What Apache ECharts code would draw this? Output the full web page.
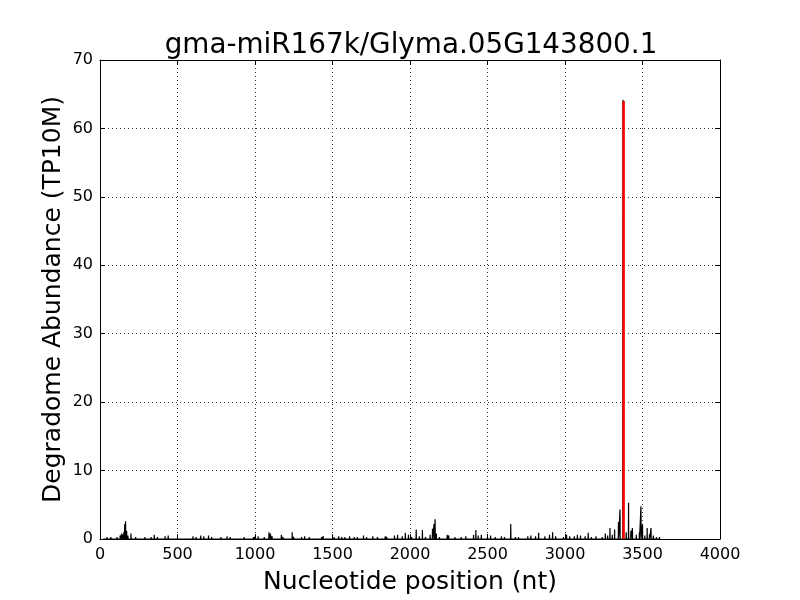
<!DOCTYPE html>
<html>
<head>
<meta charset="utf-8">
<script src="https://cdn.jsdelivr.net/npm/echarts@6/dist/echarts.min.js"></script>
<style>html,body{margin:0;padding:0;background:#fff}#c{width:800px;height:600px}</style>
</head>
<body>
<div id="c"></div>
<script>
const titleText = "gma-miR167k/Glyma.05G143800.1";
const xLabel = "Nucleotide position (nt)";
const yLabel = "Degradome Abundance (TP10M)";
const spikePositions = [20,45,70,90,110,130,140,148,155,160,165,172,180,200,230,290,330,350,370,420,440,600,620,650,670,700,720,780,820,840,930,990,1000,1020,1060,1090,1100,1110,1170,1180,1240,1250,1300,1320,1350,1430,1440,1510,1540,1560,1580,1610,1640,1660,1700,1720,1760,1790,1840,1850,1900,1920,1950,1970,1990,2010,2040,2060,2080,2100,2130,2145,2155,2162,2170,2190,2240,2250,2290,2330,2360,2410,2425,2440,2460,2500,2520,2550,2590,2610,2650,2680,2700,2760,2780,2810,2830,2870,2900,2920,2940,2990,3010,3030,3060,3080,3100,3130,3150,3170,3200,3240,3260,3275,3290,3305,3320,3345,3355,3374,3395,3410,3425,3435,3460,3480,3490,3500,3515,3530,3545,3555,3570,3590,3610];
const spikeValues = [0.2,0.3,0.3,0.2,0.3,0.5,0.8,0.6,1.0,2.2,2.6,1.2,0.5,0.8,0.3,0.3,0.3,0.6,0.3,0.4,0.5,0.4,0.3,0.5,0.4,0.5,0.3,0.3,0.4,0.3,0.3,0.3,0.3,0.4,0.3,1.0,0.8,0.4,0.6,0.3,1.0,0.3,0.3,0.4,0.3,0.3,0.4,0.3,0.4,0.3,0.3,0.4,0.3,0.3,0.5,0.3,0.4,0.3,0.4,0.3,0.5,0.6,0.4,0.9,0.6,0.3,1.4,0.4,1.3,0.3,0.6,1.5,2.2,2.9,0.8,0.3,0.6,0.5,0.3,0.3,0.4,0.6,1.3,0.5,0.6,0.3,0.5,0.3,0.4,0.3,2.2,0.3,0.3,0.4,0.5,0.4,0.9,0.4,0.6,1.0,0.4,0.3,0.6,0.4,0.4,0.6,0.5,0.4,0.9,0.3,0.4,0.3,0.8,0.5,1.6,0.6,1.4,2.5,4.3,64.2,1.0,5.3,1.2,1.6,0.6,1.0,4.8,2.2,0.5,1.6,0.7,1.6,0.5,0.3,0.3];
const cleavagePosition = 3378;
const cleavageValue = 64;
const xTicks = [0,4000,500];
const yTicks = [0,70,10];

const lineData = [];
for (let i = 0; i < spikePositions.length; i++) {
  const p = spikePositions[i];
  lineData.push([p - 1, 0], [p, spikeValues[i]], [p + 1, 0]);
}
const redData = [[cleavagePosition, 0], [cleavagePosition, cleavageValue]];

const FONT = "DejaVu Sans";
const tickStyle = {show:true, inside:true, length:5, lineStyle:{color:'#000', width:1}};
const lineStyleAxis = {show:true, onZero:false, lineStyle:{color:'#000', width:1}};
const grid = {left:100, right:80, top:60, bottom:60};
const plain = v => String(v);

const chart = echarts.init(document.getElementById('c'), null, {renderer:'canvas'});
chart.setOption({
  animation:false,
  backgroundColor:'#fff',
  title:{text:titleText, left:406, textAlign:'center', top:27,
    textStyle:{fontFamily:FONT, fontSize:27.8, fontWeight:'normal', color:'#000'}},
  grid:grid,
  xAxis:[
    {type:'value', min:xTicks[0], max:xTicks[1], interval:xTicks[2], position:'bottom',
     name:xLabel, nameLocation:'middle', nameGap:31, nameMoveOverlap:false,
     nameTextStyle:{fontFamily:FONT, fontSize:25, color:'#000'},
     axisLine:lineStyleAxis, axisTick:tickStyle,
     axisLabel:{fontFamily:FONT, fontSize:16, color:'#000', margin:8, formatter:plain},
     splitLine:{show:true, lineStyle:{color:'#333', width:1, type:[1,3]}}},
    {type:'value', min:xTicks[0], max:xTicks[1], interval:xTicks[2], position:'top',
     axisLine:lineStyleAxis, axisTick:tickStyle, axisLabel:{show:false}, splitLine:{show:false}}
  ],
  yAxis:[
    {type:'value', min:yTicks[0], max:yTicks[1], interval:yTicks[2], position:'left',
     name:yLabel, nameLocation:'middle', nameGap:34, nameMoveOverlap:false,
     nameTextStyle:{fontFamily:FONT, fontSize:25, color:'#000'},
     axisLine:lineStyleAxis, axisTick:tickStyle,
     axisLabel:{fontFamily:FONT, fontSize:16, color:'#000', margin:7, formatter:plain},
     splitLine:{show:true, lineStyle:{color:'#333', width:1, type:[1,3]}}},
    {type:'value', min:yTicks[0], max:yTicks[1], interval:yTicks[2], position:'right',
     axisLine:lineStyleAxis, axisTick:tickStyle, axisLabel:{show:false}, splitLine:{show:false}}
  ],
  series:[
    {type:'line', data:lineData, showSymbol:false, symbol:'none',
     lineStyle:{color:'#000', width:1.2}, itemStyle:{color:'#000'}, z:3},
    {type:'line', data:redData, showSymbol:false, symbol:'none',
     lineStyle:{color:'#ff0000', width:2.5}, itemStyle:{color:'#ff0000'}, z:4}
  ]
});
</script>
</body>
</html>
